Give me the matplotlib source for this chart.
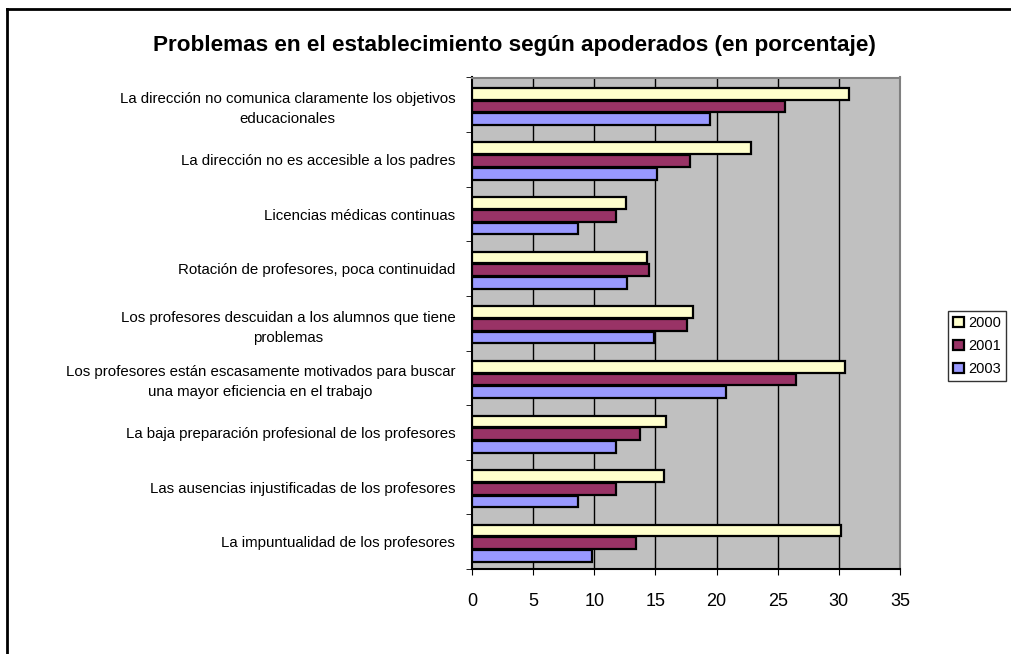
import numpy as np
import matplotlib
matplotlib.use('Agg')
import matplotlib.pyplot as plt
from matplotlib.lines import Line2D

plt.rcParams['font.family'] = ['Liberation Sans', 'DejaVu Sans']

# datos (porcentajes)
categorias = [
    'La dirección no comunica claramente los objetivos\neducacionales',
    'La dirección no es accesible a los padres',
    'Licencias médicas continuas',
    'Rotación de profesores, poca continuidad',
    'Los profesores descuidan a los alumnos que tiene\nproblemas',
    'Los profesores están escasamente motivados para buscar\nuna mayor eficiencia en el trabajo',
    'La baja preparación profesional de los profesores',
    'Las ausencias injustificadas de los profesores',
    'La impuntualidad de los profesores',
]
anios = ['2000', '2001', '2003']
v2000 = [30.8, 22.8, 12.6, 14.3, 18.1, 30.5, 15.9, 15.7, 30.2]
v2001 = [25.6, 17.8, 11.8, 14.5, 17.6, 26.5, 13.7, 11.8, 13.4]
v2003 = [19.5, 15.1, 8.7, 12.7, 14.9, 20.8, 11.8, 8.7, 9.8]
colores = ['#FFFFCC', '#993366', '#9999FF']

fig = plt.figure(figsize=(10.11, 6.54), dpi=100)
ax = fig.add_axes([472/1011, 1-569/654, 428/1011, (569-77.5)/654])
ax.set_facecolor('#C0C0C0')

y = np.arange(len(categorias))
paso = 0.233
alto = 0.215
for i, (vals, c, lab) in enumerate(zip([v2000, v2001, v2003], colores, anios)):
    ax.barh(y + (i - 1) * paso + 0.03, vals, height=alto, color=c,
            edgecolor='black', linewidth=1.6, label=lab, zorder=3)

ax.set_xlim(0, 35)
ax.set_ylim(len(categorias) - 0.5, -0.5)
ax.set_xticks(np.arange(0, 36, 5))
ax.tick_params(axis='x', labelsize=13, length=4, direction='out', pad=13)
ax.set_yticks(y)
ax.set_yticklabels(categorias, fontsize=10.8, multialignment='center', linespacing=1.55)
ax.set_yticks(np.arange(-0.5, len(categorias)), minor=True)
ax.tick_params(axis='y', which='major', length=0, pad=12)
ax.tick_params(axis='y', which='minor', length=4, direction='out')
for xv in range(5, 35, 5):
    ax.axvline(xv, color='black', linewidth=1, zorder=1)

ax.spines['left'].set_color('black')
ax.spines['bottom'].set_color('black')
ax.spines['top'].set_color('#808080')
ax.spines['right'].set_color('#808080')
for s in ax.spines.values():
    s.set_linewidth(1.5)

fig.text(514/1011, 1-45/654, 'Problemas en el establecimiento según apoderados (en porcentaje)',
         ha='center', va='center', fontsize=16.2, fontweight='bold')

leg = fig.legend(loc='upper left', bbox_to_anchor=(948/1011, 1-311/654),
                 fontsize=10.5, frameon=True, fancybox=False, handlelength=0.75,
                 handleheight=0.75, handletextpad=0.3, borderpad=0.35,
                 labelspacing=0.62, borderaxespad=0)
leg.get_frame().set_edgecolor('black')
leg.get_frame().set_linewidth(1)

# borde del area del grafico
fig.add_artist(Line2D([7/1011, 7/1011], [0, 1-9/654], color='black', linewidth=2))
fig.add_artist(Line2D([7/1011, 1], [1-9/654, 1-9/654], color='black', linewidth=2))

fig.savefig('out.png', dpi=100)
